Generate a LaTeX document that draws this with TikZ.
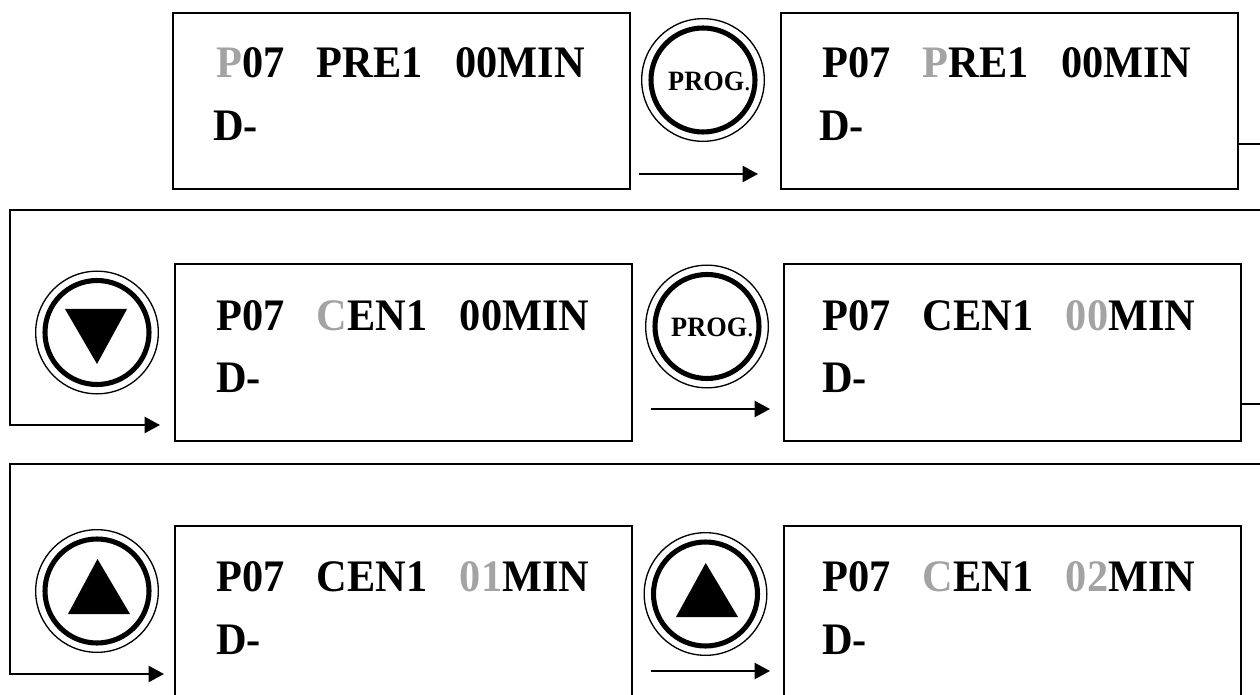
\documentclass[tikz,border=0pt]{standalone}
\usepackage{fontspec}
\setmainfont[FakeStretch=0.94]{Liberation Serif}
\usetikzlibrary{arrows.meta}
\definecolor{hl}{gray}{0.64}
\newcommand{\gap}{\hspace{24.3pt}}
\tikzset{
  x=0.75pt,y=-0.75pt,
  disp/.style={draw,line width=1.5pt,minimum width=342.5pt,minimum height=132pt,anchor=north west,inner sep=0pt},
  txt/.style={anchor=base west,inner sep=0pt,font=\fontsize{33.8pt}{33.8pt}\selectfont\bfseries},
  ring/.style={circle,draw,line width=1pt,minimum size=92pt,inner sep=0pt},
  core/.style={circle,draw,line width=3.8pt,minimum size=78pt,inner sep=0pt},
  progtxt/.style={inner sep=0pt,font=\fontsize{21pt}{21pt}\selectfont\bfseries},
  tri/.style={fill=black,draw=none},
  conn/.style={line width=1.7pt},
  flow/.style={line width=1.7pt,-{Triangle[length=11.5pt,width=12pt]}}
}
\begin{document}
\begin{tikzpicture}
\useasboundingbox (0,0) rectangle (1260,695);
\clip (0,0) rectangle (1260,695);
% displays
\node[disp] (b1) at (172,12) {};
\node[disp] (b2) at (780,12) {};
\node[disp] (b3) at (174,263.5) {};
\node[disp] (b4) at (783,263.5) {};
\node[disp] (b5) at (174,525) {};
\node[disp] (b6) at (783,525) {};
% texts
\node[txt] (t1a) at (216,78) {\textcolor{hl}{P}07\gap PRE1\gap 00MIN};
\node[txt] (t1b) at (213,141) {D-};
\node[txt] (t2a) at (822,78) {P07\gap \textcolor{hl}{P}RE1\gap 00MIN};
\node[txt] (t2b) at (819,141) {D-};
\node[txt] (t3a) at (216,330) {P07\gap \textcolor{hl}{C}EN1\gap 00MIN};
\node[txt] (t3b) at (216,392) {D-};
\node[txt] (t4a) at (822,330) {P07\gap CEN1\gap \textcolor{hl}{00}MIN};
\node[txt] (t4b) at (822,392) {D-};
\node[txt] (t5a) at (216,591) {P07\gap CEN1\gap \textcolor{hl}{01}MIN};
\node[txt] (t5b) at (216,654) {D-};
\node[txt] (t6a) at (822,591) {P07\gap \textcolor{hl}{C}EN1\gap \textcolor{hl}{02}MIN};
\node[txt] (t6b) at (822,654) {D-};
% buttons
\node[ring] (k1) at (703,80) {};
\node[core] (k1c) at (703,80) {};
\node[progtxt] (k1t) at (709.5,81) {PROG\textmd{.}};
\node[ring] (k2) at (97,332.5) {};
\node[core] (k2c) at (97,332.5) {};
\fill[tri] (65,309) -- (127,309) -- (97,364) -- cycle;
\node[ring] (k3) at (707,326.5) {};
\node[core] (k3c) at (707,326.5) {};
\node[progtxt] (k3t) at (712.5,327.5) {PROG\textmd{.}};
\node[ring] (k4) at (97,591) {};
\node[core] (k4c) at (97,591) {};
\fill[tri] (68,614) -- (130,614) -- (97.5,559) -- cycle;
\node[ring] (k5) at (705.5,594) {};
\node[core] (k5c) at (705.5,594) {};
\fill[tri] (676,617) -- (738,617) -- (705.7,563) -- cycle;
% connectors
\coordinate (a1s) at (639,174); \coordinate (a1e) at (758,174);
\coordinate (a2s) at (651,409); \coordinate (a2e) at (770,409);
\coordinate (a3s) at (651,671); \coordinate (a3e) at (770,671);
\draw[flow] (a1s) -- (a1e);
\draw[flow] (a2s) -- (a2e);
\draw[flow] (a3s) -- (a3e);
\coordinate (r1) at (1260,144); \coordinate (r2) at (1260,404);
\draw[conn] (b2.east |- r1) -- (r1);
\draw[conn] (b4.east |- r2) -- (r2);
\coordinate (s1) at (1260,210); \coordinate (c1) at (10,210); \coordinate (e1) at (160,425);
\coordinate (s2) at (1260,464); \coordinate (c2) at (10,464); \coordinate (e2) at (164,674);
\draw[flow] (s1) -- (c1) |- (e1);
\draw[flow] (s2) -- (c2) |- (e2);
\end{tikzpicture}
\end{document}
